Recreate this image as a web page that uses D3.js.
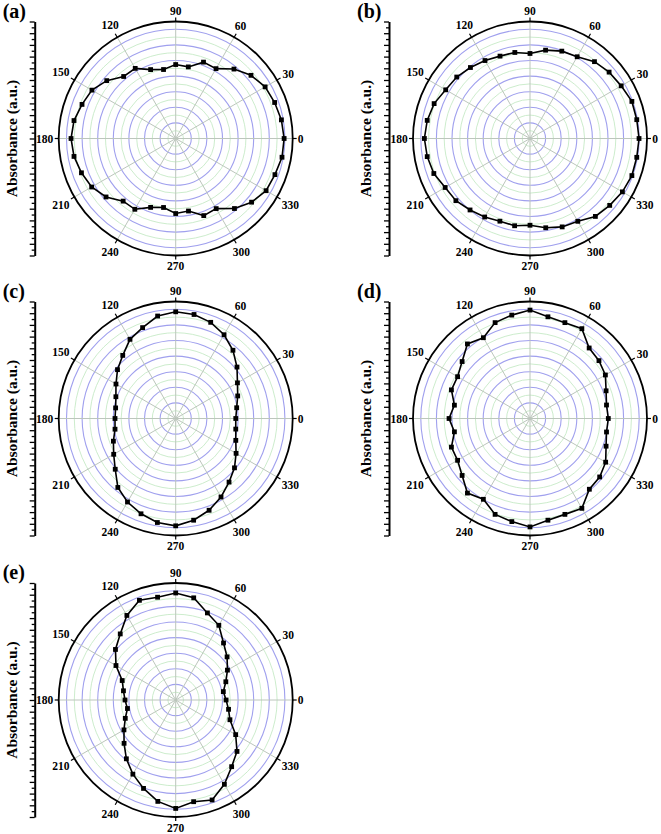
<!DOCTYPE html>
<html>
<head>
<meta charset="utf-8">
<script src="https://cdn.jsdelivr.net/npm/d3@7"></script>
<style>
  body { margin: 0; background: #fff; }
  text { font-family: "Liberation Serif", "Times New Roman", "DejaVu Serif", serif; font-weight: bold; fill: #000; }
</style>
</head>
<body>
<svg id="chart" width="661" height="834"></svg>
<script>
// polarisation angle (deg) of each measurement
const angles = [0, 10, 20, 30, 40, 50, 60, 70, 80, 90, 100, 110, 120, 130, 140, 150, 160, 170,
                180, 190, 200, 210, 220, 230, 240, 250, 260, 270, 280, 290, 300, 310, 320, 330, 340, 350];

// absorbance
const absA = [0.695, 0.688, 0.675, 0.662, 0.630, 0.581, 0.517, 0.521, 0.466, 0.474, 0.449, 0.470,
              0.519, 0.519, 0.577, 0.620, 0.639, 0.662, 0.671, 0.662, 0.643, 0.622, 0.583, 0.524,
              0.524, 0.470, 0.449, 0.481, 0.472, 0.526, 0.519, 0.586, 0.635, 0.669, 0.677, 0.692];
const absB = [0.699, 0.695, 0.695, 0.675, 0.662, 0.643, 0.605, 0.596, 0.575, 0.545, 0.560, 0.562,
              0.577, 0.594, 0.613, 0.624, 0.654, 0.669, 0.677, 0.669, 0.656, 0.628, 0.620, 0.598,
              0.581, 0.564, 0.568, 0.556, 0.581, 0.603, 0.613, 0.652, 0.667, 0.684, 0.695, 0.695];
const absC = [0.385, 0.397, 0.423, 0.457, 0.513, 0.571, 0.620, 0.656, 0.677, 0.684, 0.667, 0.620,
              0.586, 0.528, 0.487, 0.442, 0.408, 0.391, 0.389, 0.395, 0.425, 0.459, 0.506, 0.577,
              0.618, 0.650, 0.677, 0.688, 0.662, 0.626, 0.581, 0.532, 0.492, 0.447, 0.410, 0.391];
const absD = [0.502, 0.498, 0.519, 0.558, 0.577, 0.590, 0.665, 0.654, 0.662, 0.695, 0.673, 0.654,
              0.598, 0.624, 0.568, 0.536, 0.536, 0.492, 0.519, 0.492, 0.536, 0.536, 0.568, 0.624,
              0.598, 0.654, 0.671, 0.695, 0.662, 0.654, 0.665, 0.592, 0.583, 0.560, 0.519, 0.498];
const absE = [0.323, 0.310, 0.342, 0.383, 0.430, 0.477, 0.553, 0.594, 0.665, 0.686, 0.669, 0.680,
              0.626, 0.553, 0.504, 0.442, 0.365, 0.340, 0.325, 0.314, 0.344, 0.383, 0.432, 0.492,
              0.549, 0.603, 0.660, 0.695, 0.662, 0.682, 0.624, 0.558, 0.513, 0.444, 0.370, 0.344];

const panelLabels = ["(a)", "(b)", "(c)", "(d)", "(e)"];
const seriesList = [absA, absB, absC, absD, absE];
const angleTicks = [0, 30, 60, 90, 120, 150, 180, 210, 240, 270, 300, 330];
const majorRings = [0.1, 0.2, 0.3, 0.4, 0.5, 0.6, 0.7];
const minorRings = [0.05, 0.15, 0.25, 0.35, 0.45, 0.55, 0.65];
const axisTitle = "Absorbance (a.u.)";

// layout
const R = 117;
const centres = [[175.7, 138.5], [530, 138.5], [175.7, 418.5], [530, 418.5], [175.7, 700]];

const svg = d3.select("#chart");
svg.append("rect").attr("width", 661).attr("height", 834).attr("fill", "#fff");

const rScale = d3.scaleLinear().domain([0, 0.75]).range([0, R]);
const toRad = d => d * Math.PI / 180;

function drawPanel(label, values, cx, cy) {
  const g = svg.append("g").attr("transform", `translate(${cx},${cy})`);

  // rings
  g.selectAll("circle.minor")
    .data(minorRings)
    .enter().append("circle")
      .attr("r", d => rScale(d))
      .attr("fill", "none")
      .attr("stroke", "#c6eac6")
      .attr("stroke-width", 0.9);

  g.selectAll("circle.major")
    .data(majorRings)
    .enter().append("circle")
      .attr("r", d => rScale(d))
      .attr("fill", "none")
      .attr("stroke", "#a0a0ee")
      .attr("stroke-width", 1.1);

  // spokes
  g.selectAll("line.spoke")
    .data(angleTicks)
    .enter().append("line")
      .attr("x1", 0).attr("y1", 0)
      .attr("x2", d => R * Math.cos(toRad(d)))
      .attr("y2", d => -R * Math.sin(toRad(d)))
      .attr("stroke", "#bcc6bc")
      .attr("stroke-width", 1);

  // outer circle + angle ticks
  g.append("circle")
    .attr("r", R)
    .attr("fill", "none")
    .attr("stroke", "#000")
    .attr("stroke-width", 1.8);

  g.selectAll("line.atick")
    .data(angleTicks)
    .enter().append("line")
      .attr("x1", d => R * Math.cos(toRad(d)))
      .attr("y1", d => -R * Math.sin(toRad(d)))
      .attr("x2", d => (R + 4) * Math.cos(toRad(d)))
      .attr("y2", d => -(R + 4) * Math.sin(toRad(d)))
      .attr("stroke", "#000")
      .attr("stroke-width", 1.2);

  // angle labels
  const labelPos = d => {
    const a = toRad(d), hw = String(d).length * 3;
    const dist = R + 5 + Math.abs(Math.cos(a)) * hw + Math.abs(Math.sin(a)) * 5.5;
    return [dist * Math.cos(a), -dist * Math.sin(a)];
  };
  g.selectAll("text.alabel")
    .data(angleTicks)
    .enter().append("text")
      .text(d => d)
      .attr("font-size", 11.5)
      .attr("text-anchor", "middle")
      .attr("dy", "0.35em")
      .attr("x", d => labelPos(d)[0])
      .attr("y", d => labelPos(d)[1]);

  // data
  const pts = angles.map((a, i) => ({angle: a, value: values[i]}));

  const line = d3.lineRadial()
      .angle(d => Math.PI / 2 - toRad(d.angle))
      .radius(d => rScale(d.value))
      .curve(d3.curveLinearClosed);

  g.append("path")
    .datum(pts)
    .attr("d", line)
    .attr("fill", "none")
    .attr("stroke", "#000")
    .attr("stroke-width", 1.6);

  const ms = 4.8;
  g.selectAll("rect.pt")
    .data(pts)
    .enter().append("rect")
      .attr("x", d => rScale(d.value) * Math.cos(toRad(d.angle)) - ms / 2)
      .attr("y", d => -rScale(d.value) * Math.sin(toRad(d.angle)) - ms / 2)
      .attr("width", ms)
      .attr("height", ms)
      .attr("fill", "#000");

  // left radial axis, spans the full diameter
  const yScale = d3.scaleLinear().domain([0.75, -0.75]).range([cy - R, cy + R]);
  const step = 0.075;
  const majors = d3.range(-10, 11).map(k => k * step);
  const minors = d3.range(-10, 10).map(k => (k + 0.5) * step);

  const ax = svg.append("g").attr("transform", `translate(${cx - 141},0)`);
  ax.call(d3.axisLeft(yScale).tickValues(majors).tickSize(5).tickSizeOuter(0).tickFormat(""));
  ax.append("g").call(d3.axisLeft(yScale).tickValues(minors).tickSize(3).tickSizeOuter(0).tickFormat(""))
    .select(".domain").remove();
  ax.selectAll(".domain").attr("stroke-width", 2);
  ax.selectAll(".tick line").attr("stroke-width", 1.3);

  svg.append("text")
    .text(axisTitle)
    .attr("font-size", 15.5)
    .attr("text-anchor", "middle")
    .attr("transform", `translate(${cx - 159},${cy}) rotate(-90)`);

  svg.append("text")
    .text(label)
    .attr("font-size", 20)
    .attr("x", cx - 173)
    .attr("y", cy - 121);
}

seriesList.forEach((vals, i) => drawPanel(panelLabels[i], vals, centres[i][0], centres[i][1]));
</script>
</body>
</html>
